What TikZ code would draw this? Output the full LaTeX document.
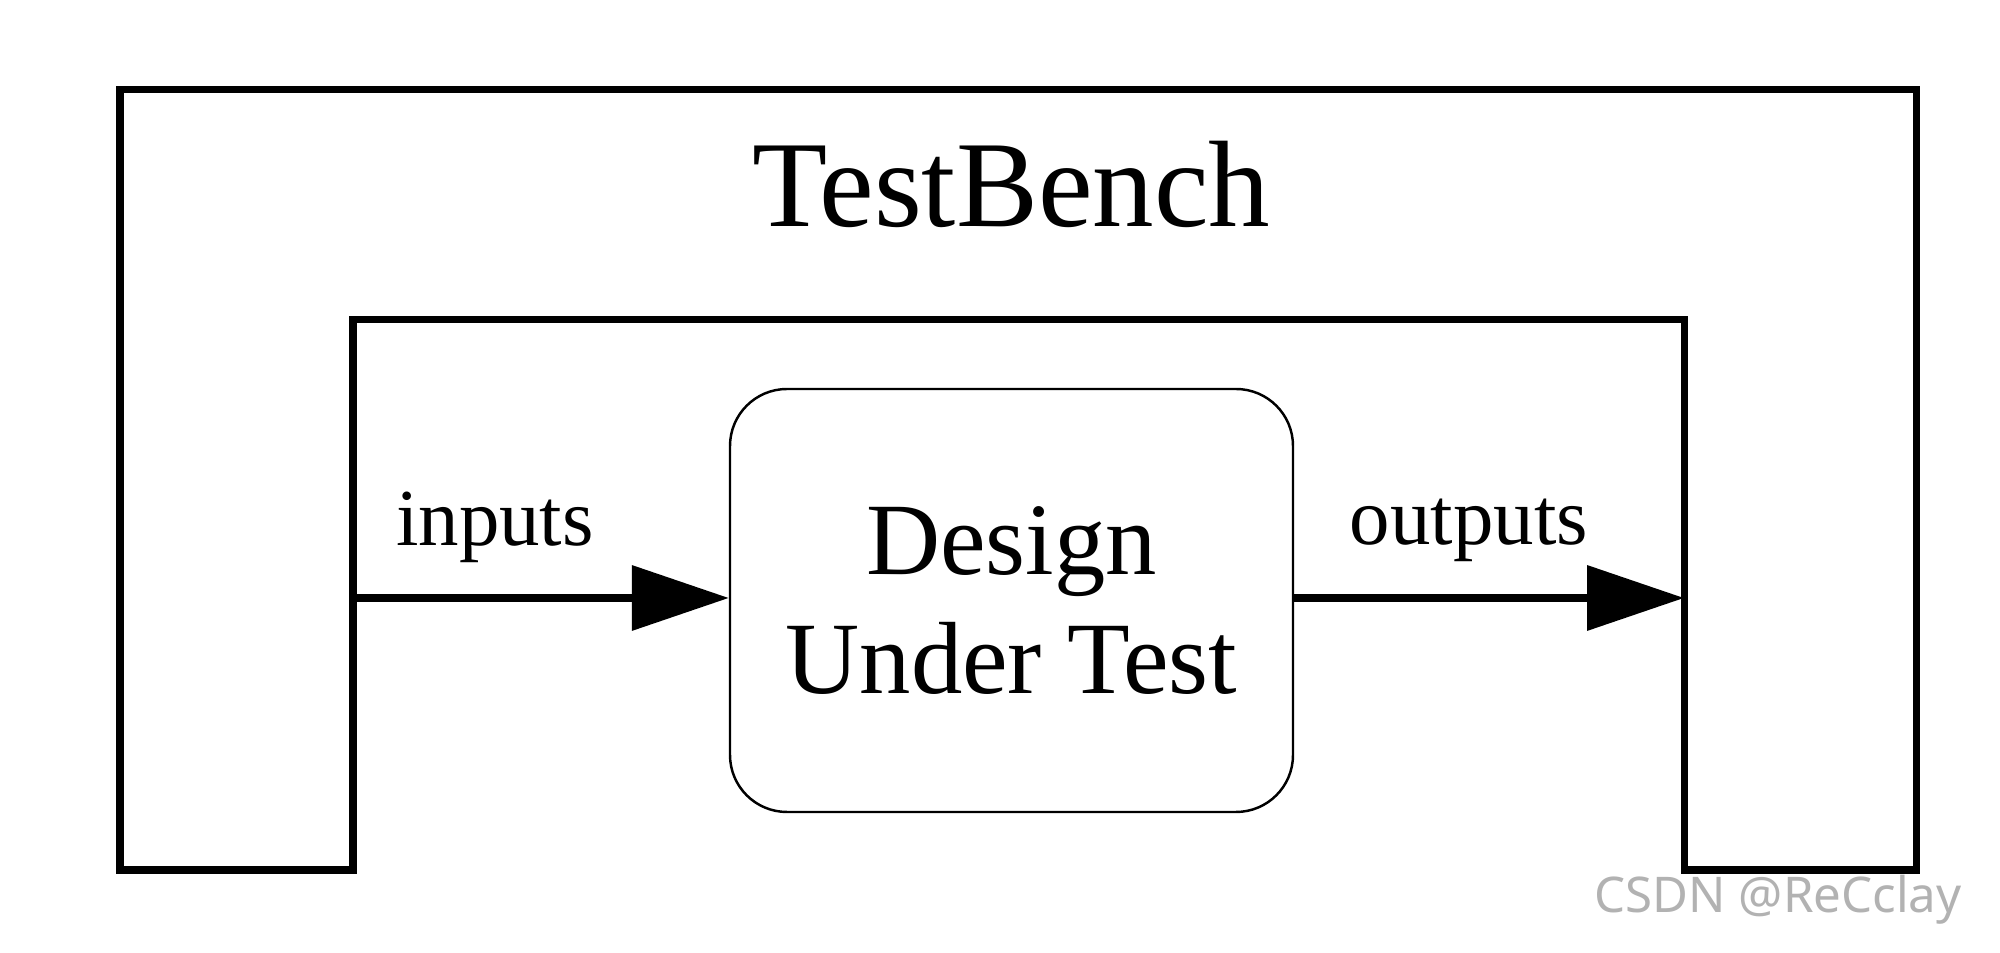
\documentclass[tikz,border=0pt]{standalone}
\usepackage{fontspec}
\setmainfont{Liberation Serif}
\newfontfamily\marksf{Noto Sans}
\usepackage{tikz}
\usetikzlibrary{arrows.meta,calc}
\tikzstyle{frame} = [line width=2pt, line join=miter]
\tikzstyle{dutbox} = [draw, line width=0.7pt, rounded corners=0.57cm, minimum width=5.63cm, minimum height=4.23cm, align=center, inner sep=0pt, font=\fontsize{29.2}{34}\selectfont]
\tikzstyle{sig} = [line width=2pt, -{Triangle[length=0.97cm,width=0.64cm]}]
\tikzstyle{lbl} = [anchor=base, inner sep=0pt, font=\fontsize{23}{27}\selectfont]

\begin{document}
\begin{tikzpicture}
\useasboundingbox (0,0) rectangle (20,9.53);
\draw[frame] (1.20,0.83) -- (1.20,8.63) -- (19.16,8.63) -- (19.16,0.83) -- (16.84,0.83)
    -- (16.84,6.33) -- (3.53,6.33) -- (3.53,0.83) -- cycle;
\node[anchor=base, inner sep=0pt, font=\fontsize{35}{40}\selectfont] (tb) at (10.115,7.26) {TestBench};

\node[dutbox] (dut) at (10.115,3.525) {Design\\Under Test};

\coordinate (in) at (3.53,3.55);
\coordinate (out) at (16.84,3.55);
    \draw[sig] (in) -- (in -| dut.west);
    \draw[sig] (out -| dut.east) -- (out);
\node[lbl] (inlbl) at (4.95,4.07) {inputs};
\node[lbl] (outlbl) at (14.69,4.08) {outputs};

\node[text=gray!60, inner sep=0pt, font=\marksf\fontsize{14}{16}\selectfont] (mark) at (17.78,0.53) {CSDN @ReCclay};
\end{tikzpicture}
\end{document}
